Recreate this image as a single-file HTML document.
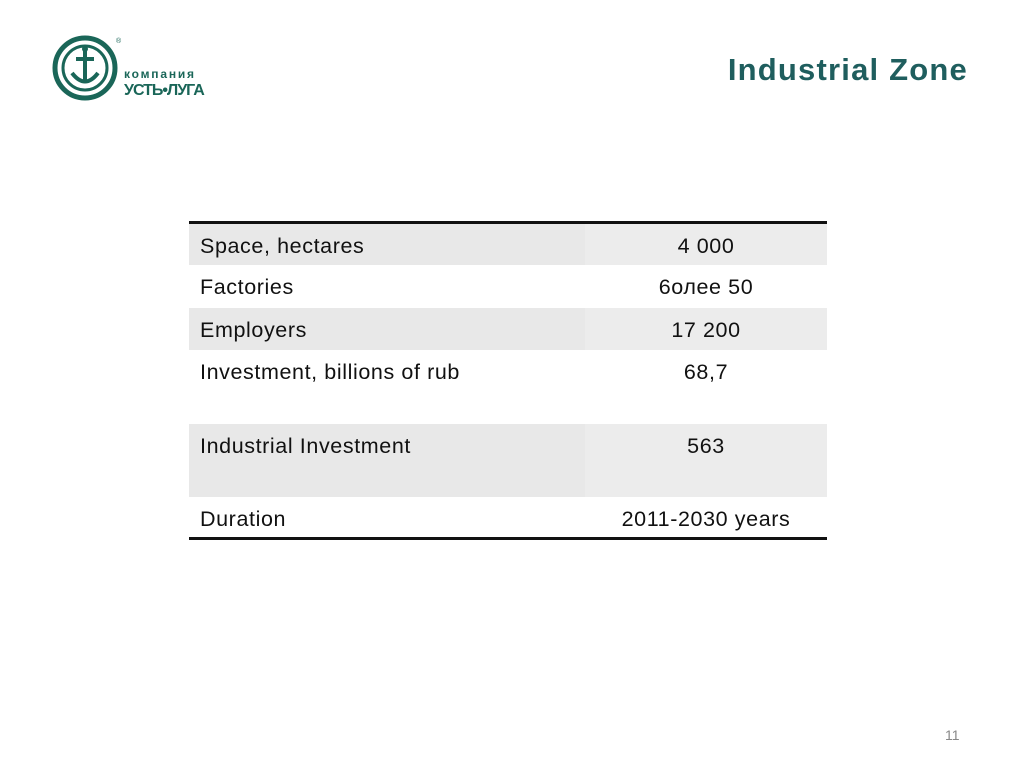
<!DOCTYPE html>
<html><head><meta charset="utf-8"><style>
body{margin:0;width:1024px;height:768px;background:#fff;position:relative;overflow:hidden;font-family:"Liberation Sans",sans-serif}
.title{position:absolute;right:56px;top:52px;font-size:31px;font-weight:bold;color:#1f5e5e;letter-spacing:1.2px}
table{position:absolute;left:189px;top:221px;width:638px;border-collapse:collapse;border-top:3px solid #111;border-bottom:3px solid #111}
td{font-size:21.5px;color:#111;padding:0 0 0 11px;vertical-align:top;letter-spacing:0.6px}
td.v{text-align:center;padding:0;width:242px}
tr.g td{background:#e8e8e8}
td.v.g2{background:#ececec}
.pn{position:absolute;left:945px;top:727px;font-size:14px;color:#888}
</style></head><body>
<div style="position:absolute;left:50px;top:35px;width:160px;height:70px">
<svg width="160" height="70">
<circle cx="35" cy="33" r="30" fill="none" stroke="#1a6658" stroke-width="5"/>
<circle cx="35" cy="33" r="22" fill="none" stroke="#1a6658" stroke-width="3"/>
<path d="M35 15 V48 M26 24 H44 M22 38 Q35 55 48 38" fill="none" stroke="#1a6658" stroke-width="4"/>
<circle cx="35" cy="14" r="3" fill="#1a6658"/>
<text x="66" y="8" font-size="7" fill="#1a6658">®</text>
<text x="74" y="43" font-size="12" font-weight="bold" fill="#1a6658" letter-spacing="1.8" font-family="Liberation Sans,DejaVu Sans,sans-serif">компания</text>
<text x="74" y="60" font-size="16" font-weight="bold" fill="#1a6658" font-family="Liberation Sans,DejaVu Sans,sans-serif" letter-spacing="-1">УСТЬ•ЛУГА</text>
</svg></div>
<div class="title">Industrial Zone</div>
<table>
<tr class="g" style="height:42px"><td style="padding-top:10px">Space, hectares</td><td class="v g2" style="padding-top:10px">4 000</td></tr>
<tr style="height:43px"><td style="padding-top:10px">Factories</td><td class="v" style="padding-top:10px">6олее 50</td></tr>
<tr class="g" style="height:42px"><td style="padding-top:10px">Employers</td><td class="v g2" style="padding-top:10px">17 200</td></tr>
<tr style="height:74px"><td style="padding-top:10px">Investment, billions of rub</td><td class="v" style="padding-top:10px">68,7</td></tr>
<tr class="g" style="height:73px"><td style="padding-top:10px">Industrial Investment</td><td class="v g2" style="padding-top:10px">563</td></tr>
<tr style="height:42px"><td style="padding-top:10px">Duration</td><td class="v" style="padding-top:10px">2011-2030 years</td></tr>
</table>
<div class="pn">11</div>
</body></html>
